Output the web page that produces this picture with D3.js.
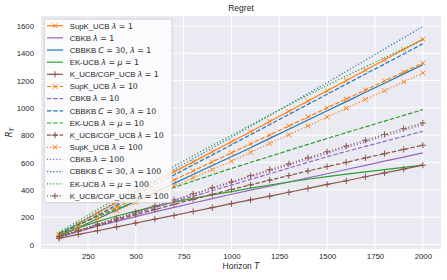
<!DOCTYPE html>
<html><head><meta charset="utf-8">
<script src="https://cdn.jsdelivr.net/npm/d3@7"></script>
<style>
html,body{margin:0;padding:0;background:#fff;}
svg{display:block;font-family:"Liberation Sans",Arial,sans-serif;}
</style></head>
<body><svg id="c" width="447" height="280"></svg>
<script>
// ---------- data ----------
const T = [100,200,300,400,500,600,700,800,900,1000,1100,1200,1300,1400,1500,1600,1700,1800,1900,2000];
const xTicks = [250,500,750,1000,1250,1500,1750,2000];
const yTicks = [0,200,400,600,800,1000,1200,1400,1600];
const labels = [
  "SupK_UCB λ = 1","CBKB λ = 1","CBBKB C = 30, λ = 1","EK-UCB λ = μ = 1","K_UCB/CGP_UCB λ = 1",
  "SupK_UCB λ = 10","CBKB λ = 10","CBBKB C = 30, λ = 10","EK-UCB λ = μ = 10","K_UCB/CGP_UCB λ = 10",
  "SupK_UCB λ = 100","CBKB λ = 100","CBBKB C = 30, λ = 100","EK-UCB λ = μ = 100","K_UCB/CGP_UCB λ = 100"
];
const supk1  = [75,153,231,308,385,458,532,605,679,752,826,901,976,1050,1125,1200,1276,1352,1427,1503];
const cbkb1  = [55,96,134,170,205,239,272,304,336,368,398,428,458,488,518,549,579,610,640,671];
const cbbkb1 = [60,124,189,253,318,383,448,513,578,642,709,777,844,911,979,1046,1114,1181,1249,1316];
const ek1    = [70,122,168,209,245,279,310,338,364,388,413,436,458,478,497,515,532,549,565,581];
const kucb1  = [45,74,101,129,158,186,213,242,270,299,327,354,383,411,440,467,496,524,552,581];
const supk10  = [75,141,207,274,340,406,472,539,605,671,737,802,868,934,1000,1065,1131,1197,1262,1328];
const cbkb10  = [55,99,142,185,228,270,312,353,394,435,477,518,560,601,643,681,718,755,792,829];
const cbbkb10 = [68,142,215,289,362,436,509,583,656,730,804,878,952,1026,1100,1174,1248,1321,1395,1469];
const ek10    = [85,147,205,261,315,367,418,465,511,557,601,645,689,733,776,819,861,903,945,987];
const kucb10  = [55,98,139,179,218,256,294,331,367,403,437,471,505,538,571,602,634,665,696,727];
const supk100  = [65,126,186,247,307,368,428,489,549,610,675,739,804,868,933,997,1062,1126,1191,1255];
const cbkb100  = [57,101,145,189,233,277,321,365,409,452,495,538,581,624,667,709,751,793,835,877];
const cbbkb100 = [80,158,236,315,393,471,550,628,707,785,865,945,1025,1105,1185,1267,1349,1431,1513,1595];
const ek100    = [90,173,255,336,416,495,573,650,726,800,874,948,1021,1093,1165,1233,1300,1367,1433,1498];
const kucb100  = [60,105,149,194,238,283,327,372,416,460,504,548,591,635,679,721,763,806,848,890];
const seriesValues = [supk1,cbkb1,cbbkb1,ek1,kucb1,supk10,cbkb10,cbbkb10,ek10,kucb10,supk100,cbkb100,cbbkb100,ek100,kucb100];

// ---------- style ----------
const algColors = ["#ff7f0e","#9467bd","#1f77b4","#2ca02c","#8c564b"];
const algMarkers = ["x",null,null,null,"+"];
const lw = 1.2;
const dashes = [null, `${3.7*lw},${1.6*lw}`, `${1*lw},${1.65*lw}`];

const W = 447, H = 280;
const m = {l:41, r:6, t:16, b:31};
const svg = d3.select("#c");
const pw = W - m.l - m.r, ph = H - m.t - m.b;

const allV = seriesValues.flat();
const yMin = d3.min(allV), yMax = d3.max(allV);
const xMin = d3.min(T), xMax = d3.max(T);
const xr = xMax - xMin, yr = yMax - yMin;
const x = d3.scaleLinear().domain([xMin - 0.05*xr, xMax + 0.05*xr]).range([m.l, m.l+pw]);
const y = d3.scaleLinear().domain([yMin - 0.05*yr, yMax + 0.05*yr]).range([m.t+ph, m.t]);

// background
svg.append("rect").attr("x",m.l).attr("y",m.t).attr("width",pw).attr("height",ph).attr("fill","#eaeaf2");

// grid
const g = svg.append("g");
g.selectAll(".gx").data(xTicks).join("line")
  .attr("x1",d=>x(d)).attr("x2",d=>x(d)).attr("y1",m.t).attr("y2",m.t+ph)
  .attr("stroke","#fff").attr("stroke-width",1);
g.selectAll(".gy").data(yTicks).join("line")
  .attr("y1",d=>y(d)).attr("y2",d=>y(d)).attr("x1",m.l).attr("x2",m.l+pw)
  .attr("stroke","#fff").attr("stroke-width",1);

// axes (tick labels only, seaborn darkgrid)
const xAxis = svg.append("g").attr("transform",`translate(0,${m.t+ph})`)
  .call(d3.axisBottom(x).tickValues(xTicks).tickSize(0).tickPadding(4).tickFormat(d3.format("d")));
const yAxis = svg.append("g").attr("transform",`translate(${m.l},0)`)
  .call(d3.axisLeft(y).tickValues(yTicks).tickSize(0).tickPadding(7).tickFormat(d3.format("d")));
[xAxis,yAxis].forEach(a=>{
  a.select(".domain").remove();
  a.selectAll("text").attr("font-size","7.8px").attr("fill","#262626")
   .attr("font-family",'"Liberation Sans",Arial,sans-serif');
});

// lines
const clip = svg.append("clipPath").attr("id","pc").append("rect")
  .attr("x",m.l).attr("y",m.t).attr("width",pw).attr("height",ph);
const plot = svg.append("g").attr("clip-path","url(#pc)");
const line = d3.line().x((d,i)=>x(T[i])).y(d=>y(d));

function drawMarker(sel, type, cx, cy, color, s){
  if(type==="x"){
    sel.append("path").attr("d",`M${cx-s},${cy-s}L${cx+s},${cy+s}M${cx-s},${cy+s}L${cx+s},${cy-s}`)
      .attr("stroke",color).attr("stroke-width",1).attr("fill","none");
  } else if(type==="+"){
    const r = s*1.35;
    sel.append("path").attr("d",`M${cx-r},${cy}L${cx+r},${cy}M${cx},${cy-r}L${cx},${cy+r}`)
      .attr("stroke",color).attr("stroke-width",1).attr("fill","none");
  }
}

seriesValues.forEach((vals,k)=>{
  const alg = k%5, grp = Math.floor(k/5);
  const col = algColors[alg];
  const p = plot.append("path").datum(vals).attr("d",line)
    .attr("fill","none").attr("stroke",col).attr("stroke-width",lw);
  if(dashes[grp]) p.attr("stroke-dasharray",dashes[grp]);
  if(algMarkers[alg]){
    const mg = plot.append("g");
    vals.forEach((v,i)=>drawMarker(mg, algMarkers[alg], x(T[i]), y(v), col, 2.3));
  }
});

// label rendering with mathtext-like italics
function addLabel(textSel, str){
  const sp = str.indexOf(" ");
  textSel.append("tspan").text(str.slice(0,sp+1));
  const math = str.slice(sp+1);
  for(const ch of math){
    const t = textSel.append("tspan").attr("font-family",'"DejaVu Sans",sans-serif');
    if(/[λμC]/.test(ch)) t.attr("font-style","italic");
    t.text(ch);
  }
}

// legend
const fs = 7.8;
const lg = svg.append("g");
const lx = m.l + 3.3, ly = m.t + 3;
const rowH = 12.16;
const box = lg.append("rect").attr("x",lx).attr("y",ly).attr("rx",2.2).attr("ry",2.2)
  .attr("fill","#fff").attr("fill-opacity",0.8).attr("stroke","#cccccc").attr("stroke-width",0.8);
let maxW = 0;
labels.forEach((lab,k)=>{
  const alg = k%5, grp = Math.floor(k/5);
  const col = algColors[alg];
  const cy = ly + 6.7 + k*rowH;
  const hx0 = lx + 2.6, hx1 = hx0 + 16.2;
  const hl = lg.append("line").attr("x1",hx0).attr("x2",hx1).attr("y1",cy).attr("y2",cy)
    .attr("stroke",col).attr("stroke-width",lw);
  if(dashes[grp]) hl.attr("stroke-dasharray",dashes[grp]);
  if(algMarkers[alg]) drawMarker(lg, algMarkers[alg], (hx0+hx1)/2, cy, col, 2.3);
  const t = lg.append("text").attr("x",hx1+6.6).attr("y",cy+2.8)
    .attr("font-size",fs+"px").attr("fill","#262626");
  addLabel(t, lab);
  maxW = Math.max(maxW, hx1+6.6 + t.node().getComputedTextLength() - lx);
});
box.attr("width",maxW+3.2).attr("height",14*rowH + 13.4);

// title & axis labels
svg.append("text").attr("x",m.l+pw/2).attr("y",11).attr("text-anchor","middle")
  .attr("font-size","8.5px").attr("fill","#262626").text("Regret");
const xl = svg.append("text").attr("x",m.l+pw/2).attr("y",269).attr("text-anchor","middle")
  .attr("font-size","8.5px").attr("fill","#262626");
xl.append("tspan").text("Horizon ");
xl.append("tspan").attr("font-family",'"DejaVu Sans",sans-serif').attr("font-style","italic").text("T");
const yl = svg.append("text").attr("transform",`translate(12,${m.t+ph/2}) rotate(-90)`)
  .attr("text-anchor","middle").attr("font-size","8.5px").attr("fill","#262626")
  .attr("font-family",'"DejaVu Sans",sans-serif');
yl.append("tspan").attr("font-style","italic").text("R");
yl.append("tspan").attr("font-style","italic").attr("font-size","6px").attr("dy","1.8").text("T");
</script></body></html>
